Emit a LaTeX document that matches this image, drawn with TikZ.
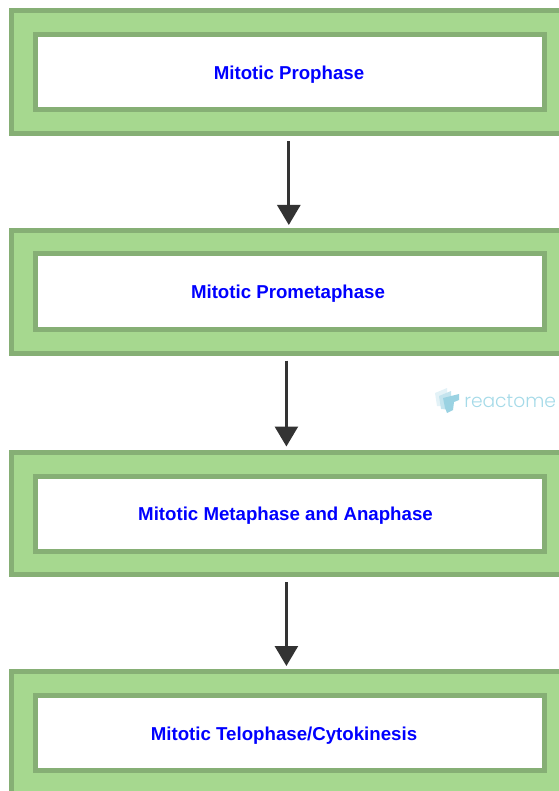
\documentclass[tikz,border=0pt]{standalone}
\usepackage{fontspec}
\setmainfont{Liberation Sans}
\newfontfamily\logofont{Poppins Light}
\usetikzlibrary{arrows.meta}
\definecolor{boxfill}{HTML}{A6D88F}
\definecolor{boxline}{HTML}{86AF75}
\definecolor{arrowcol}{HTML}{333333}
\definecolor{labelblue}{HTML}{0000FF}
\definecolor{logotext}{HTML}{A5DAE8}
\definecolor{logoa}{HTML}{E3F2F7}
\definecolor{logob}{HTML}{C4E4EE}
\definecolor{logoc}{HTML}{9AD2E2}
\tikzset{
  px/.style={x=0.75pt,y=-0.75pt},
  outerbox/.style={draw=boxline,fill=boxfill,line width=3.75pt,minimum width=427.5pt,minimum height=91.9pt,inner sep=0pt,anchor=north west},
  innerbox/.style={draw=boxline,fill=white,line width=3.75pt,minimum width=381.75pt,minimum height=56.25pt,inner sep=0pt,anchor=north west},
  steplabel/.style={inner sep=0pt,text=labelblue,font=\bfseries\fontsize{14pt}{16pt}\selectfont},
  flow/.style={draw=arrowcol,line width=2pt,-{Triangle[length=15pt,width=17.25pt,fill=arrowcol]},shorten <=3.75pt,shorten >=2.25pt},
}
\begin{document}
\begin{tikzpicture}[px]
\useasboundingbox (0,0) rectangle (559,791);
\clip (0,0) rectangle (559,791);
\node[outerbox] (o1) at (9,8.5) {};
\node[outerbox] (o2) at (9,228) {};
\node[outerbox] (o3) at (9,449.5) {};
\node[outerbox] (o4) at (9,669) {};
\node[innerbox] (i1) at (33,32) {};
\node[innerbox] (i2) at (33,251.5) {};
\node[innerbox] (i3) at (33,473.5) {};
\node[innerbox] (i4) at (33,693) {};
\node[steplabel] (l1) at (289,75) {Mitotic Prophase};
\node[steplabel] (l2) at (288,294) {Mitotic Prometaphase};
\node[steplabel] (l3) at (285.5,516) {Mitotic Metaphase and Anaphase};
\node[steplabel] (l4) at (284,736) {Mitotic Telophase/Cytokinesis};
\draw[flow] ([xshift=-0.9pt]i1.center |- o1.south) -- ([xshift=-0.9pt]i1.center |- o2.north);
\draw[flow] ([xshift=-2.7pt]i1.center |- o2.south) -- ([xshift=-2.7pt]i1.center |- o3.north);
\draw[flow] ([xshift=-2.7pt]i1.center |- o3.south) -- ([xshift=-2.7pt]i1.center |- o4.north);
\fill[logoa] (435,393) -- (447,388) -- (448,406) -- (437,406) -- cycle;
\fill[logob] (439,396) -- (451,391) -- (452,410) -- (441,409) -- cycle;
\fill[logoc] (443,398) -- (459,394) -- (459,400) -- (454,402) -- (453,410) -- (447,413) -- (445,408) -- cycle;
\node[anchor=base west,inner sep=0pt,text=logotext,font=\logofont\fontsize{14pt}{18pt}\selectfont] (logo) at (464,407.5) {reactome};
\end{tikzpicture}
\end{document}
